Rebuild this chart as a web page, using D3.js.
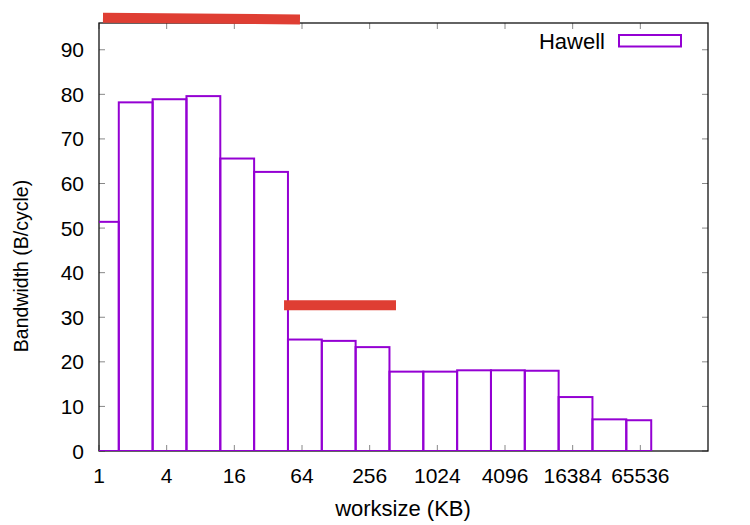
<!DOCTYPE html>
<html>
<head>
<meta charset="utf-8">
<script src="https://cdn.jsdelivr.net/npm/d3@7"></script>
<style>
  html, body { margin: 0; padding: 0; background: #fff; }
  svg text { font-family: "Liberation Sans", Arial, Helvetica, sans-serif; fill: #000; }
</style>
</head>
<body>
<svg id="chart" width="750" height="525"></svg>
<script>
// ---- data ----
const worksizes = [1, 2, 4, 8, 16, 32, 64, 128, 256, 512, 1024, 2048, 4096, 8192, 16384, 32768, 65536];
const bandwidth = [51.4, 78.2, 78.9, 79.6, 65.6, 62.6, 25.0, 24.7, 23.3, 17.8, 17.8, 18.1, 18.1, 18.0, 12.1, 7.1, 6.9];
const seriesName = "Hawell";
const xTickValues = [1, 4, 16, 64, 256, 1024, 4096, 16384, 65536];
const yTickValues = [0, 10, 20, 30, 40, 50, 60, 70, 80, 90];
// peak-bandwidth reference lines
const peakStartX = [1.085, 44.3];
const peakEndX = [61.4, 439];
const peakStartY = [97.2, 32.7];
const peakEndY = [96.8, 32.7];

// ---- layout ----
const svg = d3.select("#chart");
const L = 99, R = 708, T = 23, B = 451;
const x = d3.scaleLog().base(2).domain([1, 262144]).range([L, R]);
const y = d3.scaleLinear().domain([0, 96]).range([B, T]);

const purple = "#9400D3";
const red = "#DF3E33";

svg.append("defs").append("clipPath").attr("id", "clip")
  .append("rect").attr("x", L).attr("y", T - 20).attr("width", R - L).attr("height", B - T + 20);

// ticks (inside, mirrored)
const tickColor = "#888";
const g = svg.append("g");
yTickValues.forEach(v => {
  g.append("line").attr("x1", L).attr("x2", L + 6).attr("y1", y(v)).attr("y2", y(v)).attr("stroke", tickColor).attr("stroke-width", 1);
  g.append("line").attr("x1", R - 6).attr("x2", R).attr("y1", y(v)).attr("y2", y(v)).attr("stroke", tickColor).attr("stroke-width", 1);
  g.append("text").attr("x", 84).attr("y", y(v)).attr("dy", "0.36em")
    .attr("text-anchor", "end").attr("font-size", 21).text(v);
});
xTickValues.forEach(v => {
  g.append("line").attr("x1", x(v)).attr("x2", x(v)).attr("y1", B).attr("y2", B - 6).attr("stroke", tickColor).attr("stroke-width", 1);
  g.append("line").attr("x1", x(v)).attr("x2", x(v)).attr("y1", T).attr("y2", T + 6).attr("stroke", tickColor).attr("stroke-width", 1);
  g.append("text").attr("x", x(v)).attr("y", 483)
    .attr("text-anchor", "middle").attr("font-size", 21).text(v);
});

// border
svg.append("rect").attr("x", L).attr("y", T).attr("width", R - L).attr("height", B - T)
  .attr("fill", "none").attr("stroke", "#111").attr("stroke-width", 1.3);

// bars (gnuplot boxes: edges at linear midpoints between neighbours, end boxes mirrored)
const n = worksizes.length;
const bars = worksizes.map((s, i) => {
  const left = i > 0 ? (worksizes[i - 1] + s) / 2 : s - ((s + worksizes[i + 1]) / 2 - s);
  const right = i < n - 1 ? (s + worksizes[i + 1]) / 2 : s + (s - (worksizes[i - 1] + s) / 2);
  return { left: Math.max(left, 0.5), right, v: bandwidth[i] };
});
svg.append("g").attr("clip-path", "url(#clip)")
  .selectAll("rect").data(bars).join("rect")
  .attr("x", d => x(d.left))
  .attr("width", d => x(d.right) - x(d.left))
  .attr("y", d => y(d.v))
  .attr("height", d => y(0) - y(d.v))
  .attr("fill", "none")
  .attr("stroke", purple)
  .attr("stroke-width", 2);

// peak lines
svg.append("g").selectAll("line").data(peakStartX).join("line")
  .attr("x1", (d, i) => x(peakStartX[i]))
  .attr("x2", (d, i) => x(peakEndX[i]))
  .attr("y1", (d, i) => y(peakStartY[i]))
  .attr("y2", (d, i) => y(peakEndY[i]))
  .attr("stroke", red).attr("stroke-width", 10).attr("stroke-linecap", "butt");

// legend
svg.append("text").attr("x", 605).attr("y", 49).attr("text-anchor", "end")
  .attr("font-size", 22).text(seriesName);
svg.append("rect").attr("x", 619).attr("y", 35).attr("width", 62).attr("height", 11.5)
  .attr("fill", "none").attr("stroke", purple).attr("stroke-width", 2);

// axis labels
svg.append("text").attr("x", 403).attr("y", 516).attr("text-anchor", "middle")
  .attr("font-size", 22).text("worksize (KB)");
svg.append("text").attr("transform", "translate(28,266) rotate(-90)")
  .attr("text-anchor", "middle").attr("font-size", 19.5)
  .text("Bandwidth (B/cycle)");
</script>
</body>
</html>
